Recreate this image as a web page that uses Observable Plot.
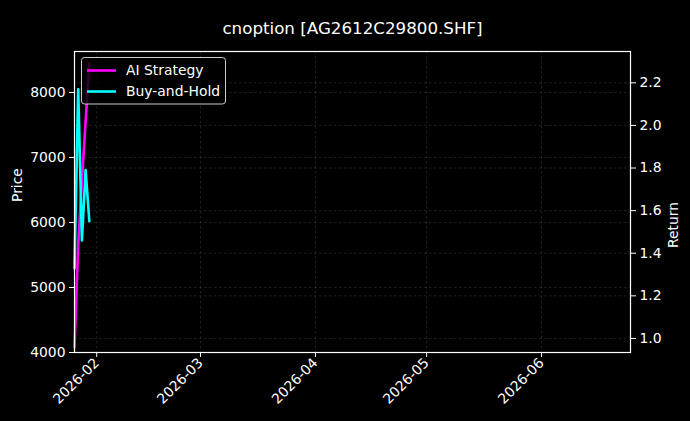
<!DOCTYPE html>
<html>
<head>
<meta charset="utf-8">
<script src="https://cdn.jsdelivr.net/npm/d3@7"></script>
<script src="https://cdn.jsdelivr.net/npm/@observablehq/plot@0.6"></script>
<style>
  html, body { margin: 0; padding: 0; background: #000; }
  #chart svg { display: block; }
</style>
</head>
<body>
<div id="chart"></div>
<script>
// ---- data ----
const title = "cnoption [AG2612C29800.SHF]";
const dates = ["2026-01-26", "2026-01-27", "2026-01-28", "2026-01-29", "2026-01-30"];
const price = [4000, 5640, 6640, 7570, 8450];
const aiStrategy = [0.96, 1.44, 1.74, 2.02, 2.29];
const buyHold = [1.33, 2.17, 1.46, 1.79, 1.55];
const seriesNames = ["AI Strategy", "Buy-and-Hold"];
const seriesColors = ["#ff00ff", "#00ffff"];
const priceTicks = [4000, 5000, 6000, 7000, 8000];
const returnTicks = [1.0, 1.2, 1.4, 1.6, 1.8, 2.0, 2.2];
const monthTicks = ["2026-02-01", "2026-03-01", "2026-04-01", "2026-05-01", "2026-06-01"];
const xDomain = ["2026-01-26", "2026-06-25"];
const priceDomain = [4000, 8630];
const returnDomain = [0.934, 2.347];

// ---- twin-axis mapping (return -> price-space of the shared y scale) ----
const k = (priceDomain[1] - priceDomain[0]) / (returnDomain[1] - returnDomain[0]);
const toP = r => priceDomain[0] + (r - returnDomain[0]) * k;
const toR = p => returnDomain[0] + (p - priceDomain[0]) / k;

const rows = dates.map((d, i) => ({
  date: new Date(d),
  price: price[i],
  ai: toP(aiStrategy[i]),
  bh: toP(buyHold[i])
}));
const monthDates = monthTicks.map(d => new Date(d));
const returnTicksP = returnTicks.map(toP);

const font = "DejaVu Sans";
const gridStyle = {stroke: "#9a9a9a", strokeOpacity: 0.35, strokeWidth: 0.6, strokeDasharray: "2.5,2.5"};

const chart = Plot.plot({
  width: 690,
  height: 421,
  marginTop: 51,
  marginBottom: 69,
  marginLeft: 74,
  marginRight: 60,
  style: {background: "#000", color: "white", fontFamily: font, fontSize: "13.9px"},
  x: {type: "utc", domain: xDomain.map(d => new Date(d))},
  y: {domain: priceDomain},
  marks: [
    Plot.gridX(monthDates, gridStyle),
    Plot.gridY(priceTicks, gridStyle),
    Plot.gridY(returnTicksP, gridStyle),
    Plot.lineY(rows, {x: "date", y: "price", stroke: "red", strokeWidth: 1.5}),
    Plot.lineY(rows, {x: "date", y: "ai", stroke: seriesColors[0], strokeWidth: 2.6}),
    Plot.lineY(rows, {x: "date", y: "bh", stroke: seriesColors[1], strokeWidth: 2.6}),
    Plot.frame({stroke: "white", strokeWidth: 1.2}),
    Plot.axisX(monthDates, {
      tickFormat: d3.utcFormat("%Y-%m"), tickRotate: -45, tickSize: 5, tickPadding: 3,
      fontSize: 13.9, label: null, stroke: "white", fill: "white"
    }),
    Plot.axisY(priceTicks, {
      anchor: "left", tickSize: 5, tickPadding: 4, fontSize: 13.9, label: null,
      tickFormat: d => String(d), stroke: "white", fill: "white"
    }),
    Plot.axisY(returnTicksP, {
      anchor: "right", tickSize: 5, tickPadding: 4, fontSize: 13.9, label: null,
      tickFormat: d => toR(d).toFixed(1), stroke: "white", fill: "white"
    }),
    Plot.text([title], {frameAnchor: "top", dy: -29, fontSize: 16.7, fill: "white"}),
    Plot.text(["Price"], {frameAnchor: "left", dx: -57, rotate: -90, fontSize: 13.9, fill: "white"}),
    Plot.text(["Return"], {frameAnchor: "right", dx: 43, rotate: -90, fontSize: 13.9, fill: "white"})
  ]
});

document.getElementById("chart").appendChild(chart);

// ---- legend (upper left, inside the axes) ----
const svg = d3.select(chart);
const lg = svg.append("g").attr("font-family", font).attr("font-size", 13.9).attr("text-anchor", "start");
lg.append("rect")
  .attr("x", 81.5).attr("y", 57.5).attr("width", 144).attr("height", 46.5)
  .attr("rx", 3).attr("fill", "#000").attr("fill-opacity", 0.8)
  .attr("stroke", "#cccccc").attr("stroke-width", 1);
seriesNames.forEach((name, i) => {
  const y = 70.5 + i * 21;
  lg.append("line").attr("x1", 87).attr("x2", 116).attr("y1", y).attr("y2", y)
    .attr("stroke", seriesColors[i]).attr("stroke-width", 2.6);
  lg.append("text").attr("x", 126).attr("y", y).attr("dy", "0.35em")
    .attr("text-anchor", "start").attr("fill", "white").text(name);
});
</script>
</body>
</html>
